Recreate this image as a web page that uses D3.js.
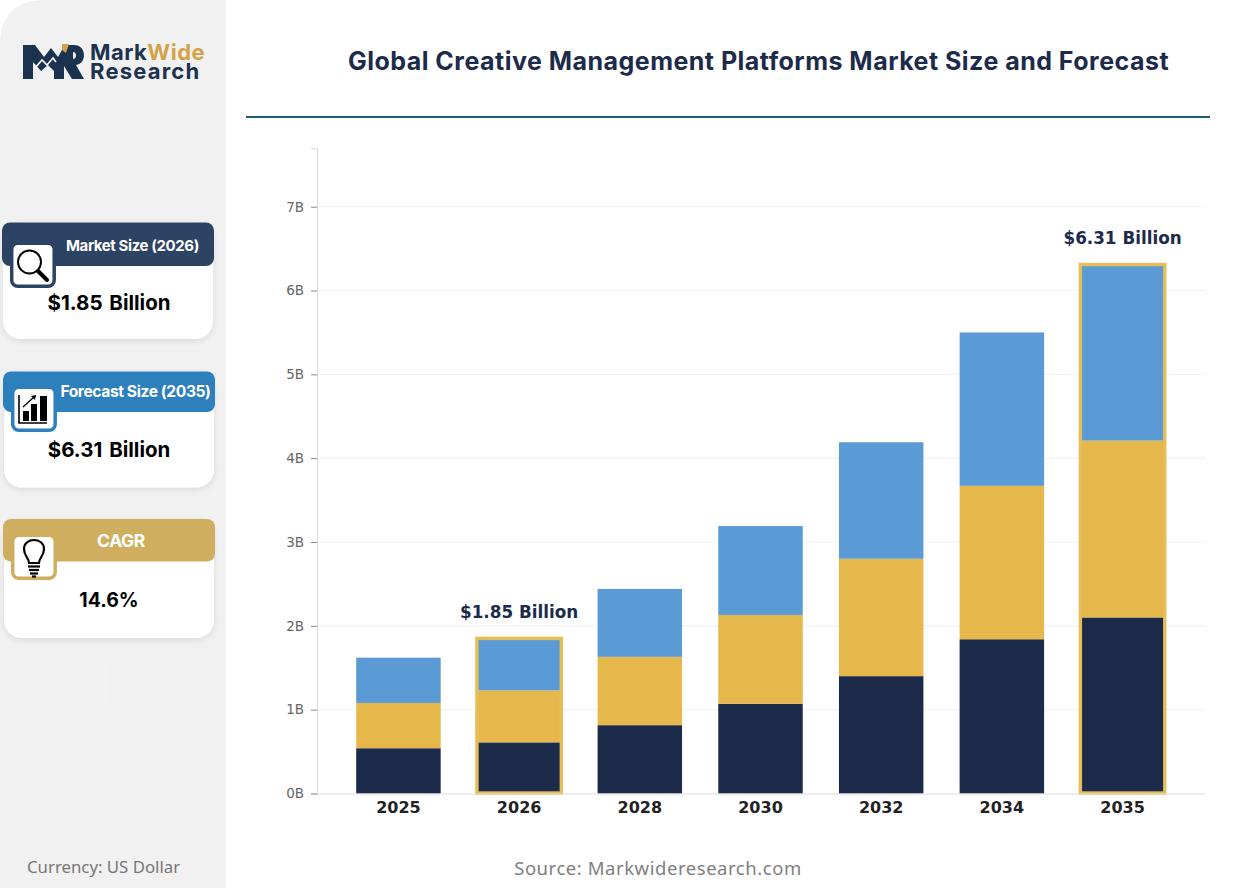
<!DOCTYPE html>
<html>
<head>
<meta charset="utf-8">
<script src="https://cdn.jsdelivr.net/npm/d3@7"></script>
<style>
html, body { margin: 0; padding: 0; background: #fff; }
svg { display: block; }
</style>
</head>
<body>
<svg id="canvas" width="1257" height="888"></svg>
<script>
let years = ["2025", "2026", "2028", "2030", "2032", "2034", "2035"]
let navyValues = [0.54, 0.61, 0.815, 1.07, 1.40, 1.84, 2.10]
let goldValues = [0.54, 0.62, 0.815, 1.06, 1.40, 1.83, 2.11]
let blueValues = [0.54, 0.62, 0.81, 1.06, 1.39, 1.83, 2.10]
let seriesNames = ["navy", "gold", "blue"]
let yTicks = [0, 1, 2, 3, 4, 5, 6, 7]
let highlightYears = ["2026", "2035"]
let highlightTotals = [1.85, 6.31]
let highlightLabels = ["$1.85 Billion", "$6.31 Billion"]
let cardTitles = ["Market Size (2026)", "Forecast Size (2035)", "CAGR"]
let cardValues = ["$1.85 Billion", "$6.31 Billion", "14.6%"]

let seriesColors = ["#1c2b4a", "#e6b84b", "#5b9bd5"]
let cardLayout = [
    {color: "#2c4363", x: 3, top: 222.5, head: 43.5, bottom: 339, titleX: 132.5, titleY: 250.5, titleSize: 15, iconTop: 245, valueY: 310, valueSize: 20.5},
    {color: "#2e80bd", x: 4, top: 371.5, head: 40.5, bottom: 487.5, titleX: 135.5, titleY: 396.5, titleSize: 15.6, iconTop: 389, valueY: 457, valueSize: 20.5},
    {color: "#cfae5f", x: 4, top: 519, head: 42.5, bottom: 638, titleX: 121, titleY: 546.5, titleSize: 17.5, iconTop: 537, valueY: 607, valueSize: 19.5}
]

let svg = d3.select("#canvas")
let sans = "Inter, 'Open Sans', sans-serif"
let dejavu = "'DejaVu Sans', sans-serif"
let noto = "'Noto Sans', sans-serif"

// sidebar
svg.append("path")
    .attr("d", "M0,888 V46 Q0,0 46,0 H226 V888 Z")
    .attr("fill", "#f1f1f1")

let defs = svg.append("defs")
let shadow = defs.append("filter").attr("id", "soft")
    .attr("x", "-10%").attr("y", "-10%").attr("width", "120%").attr("height", "125%")
shadow.append("feDropShadow")
    .attr("dx", 0).attr("dy", 2).attr("stdDeviation", 3)
    .attr("flood-color", "#000").attr("flood-opacity", 0.1)

// logo
let logo = svg.append("g")
logo.append("path")
    .attr("d", "M23,79 V45 H35 L44,57 L51,48 L58,57 L62,50 V45 H74 C87,45 87,64 76,65 L84,79 H72 L64,66 V79 H54 V71 L48,65 L41,71 L33,62 V79 Z")
    .attr("fill", "#1c3350")
logo.append("path")
    .attr("d", "M35,68 L42,60 L47,65 L53,58 L56,62")
    .attr("fill", "none").attr("stroke", "#fff").attr("stroke-width", 1.6)
logo.append("path")
    .attr("d", "M73,52 V59 C77,59 77,52 73,52 Z")
    .attr("fill", "#f1f1f1")
logo.append("path")
    .attr("d", "M62,44 H69 L66,53 L62,50 Z")
    .attr("fill", "#d3a24a")
logo.append("text").attr("x", 90).attr("y", 60)
    .attr("font-family", sans).attr("font-weight", 700).attr("font-size", 22)
    .attr("letter-spacing", 0.5).attr("fill", "#1c3350")
    .text("Mark")
    .append("tspan").attr("fill", "#d3a24a").text("Wide")
logo.append("text").attr("x", 90).attr("y", 79)
    .attr("font-family", sans).attr("font-weight", 700).attr("font-size", 22)
    .attr("letter-spacing", 1.2).attr("fill", "#1c3350")
    .text("Research")

// cards
let cardGroups = svg.selectAll("g.card").data(cardLayout).enter().append("g").attr("class", "card")
cardGroups.append("rect")
    .attr("x", d => d.x).attr("y", d => d.top)
    .attr("width", 210).attr("height", d => d.bottom - d.top)
    .attr("rx", 18).attr("fill", "#fff").attr("filter", "url(#soft)")
cardGroups.append("rect")
    .attr("x", d => d.x - 1).attr("y", d => d.top)
    .attr("width", 212).attr("height", d => d.head)
    .attr("rx", 8).attr("fill", d => d.color)
cardGroups.append("rect")
    .attr("x", d => d.x + 8.7).attr("y", d => d.iconTop - 1.7)
    .attr("width", 42.5).attr("height", 43)
    .attr("rx", 6).attr("fill", "#fff").attr("stroke", d => d.color).attr("stroke-width", 3.5)
cardGroups.append("text")
    .attr("x", d => d.titleX).attr("y", d => d.titleY)
    .attr("text-anchor", "middle")
    .attr("font-family", sans).attr("font-weight", 700).attr("font-size", d => d.titleSize)
    .attr("letter-spacing", -0.4).attr("fill", "#fff")
    .text((d, i) => cardTitles[i])
cardGroups.append("text")
    .attr("x", 109).attr("y", d => d.valueY)
    .attr("text-anchor", "middle")
    .attr("font-family", sans).attr("font-weight", 700).attr("font-size", d => d.valueSize)
    .attr("word-spacing", 2).attr("fill", "#000")
    .text((d, i) => cardValues[i])

// icons
let search = svg.append("g").attr("fill", "none").attr("stroke", "#000")
search.append("circle").attr("cx", 29.5).attr("cy", 262).attr("r", 11.5).attr("stroke-width", 2)
search.append("line").attr("x1", 38).attr("y1", 271).attr("x2", 47).attr("y2", 280)
    .attr("stroke-width", 4).attr("stroke-linecap", "round")

let chartIcon = svg.append("g").attr("fill", "#000")
chartIcon.append("path").attr("d", "M19,395 V423 H47").attr("fill", "none").attr("stroke", "#000").attr("stroke-width", 1.6)
chartIcon.append("rect").attr("x", 23).attr("y", 411).attr("width", 6).attr("height", 10)
chartIcon.append("rect").attr("x", 31).attr("y", 404).attr("width", 6).attr("height", 17)
chartIcon.append("rect").attr("x", 40).attr("y", 396).attr("width", 7).attr("height", 25)
chartIcon.append("path").attr("d", "M23,407 L34,397").attr("stroke", "#000").attr("stroke-width", 1.3)
chartIcon.append("path").attr("d", "M36,395 L31,396 L35,400 Z")

let bulb = svg.append("g").attr("fill", "none").attr("stroke", "#000").attr("stroke-width", 2.2)
bulb.append("path").attr("d", "M29,563 C29,558 24,556 24,549 C24,537 44,537 44,549 C44,556 39,558 39,563 Z")
bulb.append("line").attr("x1", 28).attr("x2", 40).attr("y1", 566.5).attr("y2", 566.5)
bulb.append("line").attr("x1", 29).attr("x2", 39).attr("y1", 570).attr("y2", 570)
bulb.append("line").attr("x1", 30).attr("x2", 38).attr("y1", 573.5).attr("y2", 573.5)
bulb.append("line").attr("x1", 32).attr("x2", 36).attr("y1", 576.5).attr("y2", 576.5)

svg.append("line").attr("x1", 106).attr("x2", 106).attr("y1", 665).attr("y2", 705)
    .attr("stroke", "#f6f6f6").attr("stroke-width", 1)

svg.append("text").attr("x", 27).attr("y", 873)
    .attr("font-family", noto).attr("font-size", 16.8).attr("fill", "#777")
    .text("Currency: US Dollar")

// header
svg.append("text").attr("x", 758.5).attr("y", 70)
    .attr("text-anchor", "middle")
    .attr("font-family", sans).attr("font-weight", 700).attr("font-size", 25)
    .attr("letter-spacing", 0.48).attr("fill", "#1c2b4a")
    .text("Global Creative Management Platforms Market Size and Forecast")
svg.append("line").attr("x1", 246).attr("x2", 1210).attr("y1", 117).attr("y2", 117)
    .attr("stroke", "#1f5a78").attr("stroke-width", 2)

// scales
let xScale = d3.scaleBand().domain(years).range([320, 1201]).padding(0.3)
let yScale = d3.scaleLinear().domain([0, 7.7]).range([793.5, 148])

// grid
svg.append("g").selectAll("line").data(yTicks.slice(1)).enter().append("line")
    .attr("x1", 317).attr("x2", 1206)
    .attr("y1", d => yScale(d)).attr("y2", d => yScale(d))
    .attr("stroke", "#f2f2f2").attr("stroke-width", 1.2)

// bars
let rows = years.map((y, i) => ({year: y, navy: navyValues[i], gold: goldValues[i], blue: blueValues[i]}))
let stacked = d3.stack().keys(seriesNames)(rows)
svg.append("g").selectAll("g").data(stacked).enter().append("g")
    .attr("fill", (d, i) => seriesColors[i])
    .selectAll("rect").data(d => d).enter().append("rect")
    .attr("x", d => xScale(d.data.year))
    .attr("y", d => yScale(d[1]))
    .attr("width", xScale.bandwidth())
    .attr("height", d => yScale(d[0]) - yScale(d[1]))

// highlight boxes
svg.append("g").selectAll("rect").data(highlightYears).enter().append("rect")
    .attr("x", d => xScale(d) + xScale.bandwidth() / 2 - 42.2)
    .attr("y", (d, i) => yScale(highlightTotals[i]))
    .attr("width", 84.4)
    .attr("height", (d, i) => yScale(0) - yScale(highlightTotals[i]) - 0.5)
    .attr("fill", "none").attr("stroke", "#e6bd57").attr("stroke-width", 3.4)
svg.append("g").selectAll("text").data(highlightYears).enter().append("text")
    .attr("x", d => xScale(d) + xScale.bandwidth() / 2)
    .attr("y", (d, i) => yScale(highlightTotals[i]) - 20.5)
    .attr("text-anchor", "middle")
    .attr("font-family", dejavu).attr("font-weight", 700).attr("font-size", 16.8)
    .attr("fill", "#1c2b4a")
    .text((d, i) => highlightLabels[i])

// axes
let yAxis = svg.append("g").attr("transform", "translate(317,0)")
    .call(d3.axisLeft(yScale).tickValues(yTicks).tickFormat(d => d + "B").tickSize(6).tickPadding(7))
yAxis.select(".domain").attr("stroke", "#dcdcdc")
yAxis.selectAll(".tick line").attr("stroke", "#888")
yAxis.selectAll("text").attr("font-family", dejavu).attr("font-size", 13.5).attr("fill", "#666")

let xAxis = svg.append("g").attr("transform", "translate(0,793.5)")
    .call(d3.axisBottom(xScale).tickSize(0).tickPadding(8))
xAxis.select(".domain").attr("stroke", "#dcdcdc").attr("d", "M317,0.5H1206")
xAxis.selectAll("text").attr("font-family", dejavu).attr("font-weight", 700).attr("font-size", 16).attr("fill", "#222")

svg.append("text").attr("x", 658).attr("y", 875)
    .attr("text-anchor", "middle")
    .attr("font-family", noto).attr("font-size", 18.5).attr("letter-spacing", 0.55).attr("fill", "#808080")
    .text("Source: Markwideresearch.com")
</script>
</body>
</html>
